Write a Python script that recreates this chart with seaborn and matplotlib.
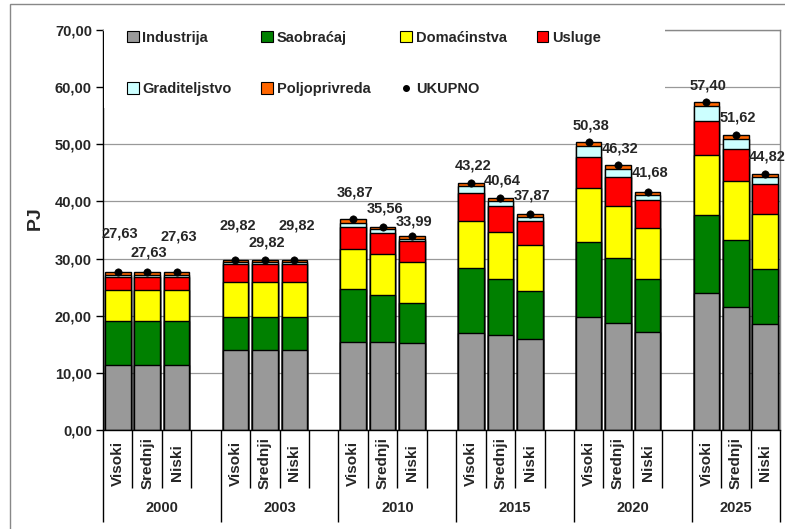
import numpy as np
import pandas as pd
import seaborn as sns
import matplotlib.pyplot as plt
from matplotlib.patches import Patch, Rectangle
from matplotlib.lines import Line2D
from matplotlib.ticker import FuncFormatter, FixedLocator

years = ['2000', '2003', '2010', '2015', '2020', '2025']
scenarios = ['Visoki', 'Srednji', 'Niski']

# PJ po sektorima, redom Visoki/Srednji/Niski za svaku godinu
industrija = [11.3, 11.3, 11.3, 14.0, 14.0, 14.0, 15.35, 15.35, 15.2,
              16.9, 16.6, 15.9, 19.8, 18.8, 17.2, 23.9, 21.6, 18.5]
saobracaj = [7.8, 7.8, 7.8, 5.8, 5.8, 5.8, 9.25, 8.2, 7.1,
             11.4, 9.9, 8.5, 13.05, 11.25, 9.3, 13.8, 11.65, 9.7]
domacinstva = [5.4, 5.4, 5.4, 6.15, 6.15, 6.15, 7.1, 7.2, 7.1,
               8.3, 8.2, 8.0, 9.45, 9.15, 8.85, 10.5, 10.25, 9.6]
usluge = [2.2, 2.2, 2.2, 3.05, 3.05, 3.05, 3.9, 3.7, 3.6,
          4.8, 4.45, 4.2, 5.5, 5.1, 4.85, 5.9, 5.6, 5.25]
graditeljstvo = [0.5, 0.5, 0.5, 0.45, 0.45, 0.45, 0.7, 0.65, 0.5,
                 1.3, 0.85, 0.6, 1.9, 1.4, 0.9, 2.55, 1.8, 1.15]
poljoprivreda = [0.43, 0.43, 0.43, 0.37, 0.37, 0.37, 0.57, 0.46, 0.49,
                 0.52, 0.64, 0.67, 0.68, 0.62, 0.58, 0.75, 0.72, 0.62]
ukupno = [27.63, 27.63, 27.63, 29.82, 29.82, 29.82, 36.87, 35.56, 33.99,
          43.22, 40.64, 37.87, 50.38, 46.32, 41.68, 57.40, 51.62, 44.82]

# pomak oznaka iznad stupca (piksela)
label_dy = [39, 20, 36, 34, 17, 34, 27, 18, 14,
            18, 17, 18, 17, 17, 19, 17, 18, 17]

sectors = ['Industrija', 'Saobraćaj', 'Domaćinstva', 'Usluge', 'Graditeljstvo', 'Poljoprivreda']
colors = ['#999999', '#008000', '#FFFF00', '#FF0000', '#CCFFFF', '#FF6600']
values = [industrija, saobracaj, domacinstva, usluge, graditeljstvo, poljoprivreda]

sns.set_style('white')
plt.rcParams['font.family'] = ['Liberation Sans', 'DejaVu Sans']
plt.rcParams['font.weight'] = 'bold'

# pozicije stupaca: 3 scenarija + prazno mjesto po godini
pos = [g * 4 + s for g in range(len(years)) for s in range(len(scenarios))]
cum = np.cumsum(np.array(values), axis=0)

fig = plt.figure(figsize=(7.85, 5.29), dpi=100)
ax = fig.add_axes([103 / 785, 1 - 430 / 529, 677 / 785, 400 / 529])

for i in range(len(sectors) - 1, -1, -1):
    df = pd.DataFrame({'pos': pos, 'val': cum[i]})
    sns.barplot(data=df, x='pos', y='val', native_scale=True, color=colors[i],
                saturation=1, edgecolor='black', linewidth=1, width=0.87,
                errorbar=None, ax=ax)

sns.scatterplot(x=pos, y=ukupno, color='black', s=28, edgecolor='black',
                zorder=6, legend=False, ax=ax)

for p, v, dy in zip(pos, ukupno, label_dy):
    ax.annotate(f'{v:.2f}'.replace('.', ','), (p, v), xytext=(1.5, dy * 0.72),
                textcoords='offset points', ha='center', va='center',
                fontsize=10.5, fontweight='bold', annotation_clip=False)

ax.set_xlim(-0.5, 22.5)
ax.set_ylim(0, 70)
ax.set_yticks(np.arange(0, 71, 10))
ax.yaxis.set_major_formatter(FuncFormatter(lambda v, _: f'{v:.2f}'.replace('.', ',')))
ax.tick_params(axis='y', direction='out', length=5, width=1, color='black',
               labelsize=10.5, pad=3, left=True)
ax.set_ylabel('')
ax.set_xlabel('')
ax.grid(axis='y', color='#999999', linewidth=0.9)
ax.set_axisbelow(True)

for s in ['top', 'right']:
    ax.spines[s].set_color('#888888')
    ax.spines[s].set_linewidth(1)
for s in ['left', 'bottom']:
    ax.spines[s].set_color('black')
    ax.spines[s].set_linewidth(1)

# granice kategorija ispod osi
year_edges = [-0.5, 3.5, 7.5, 11.5, 15.5, 19.5, 22.5]
inner_edges = [k + 0.5 for k in range(-1, 23) if k + 0.5 not in year_edges]
ax.xaxis.set_major_locator(FixedLocator(year_edges))
ax.xaxis.set_minor_locator(FixedLocator(inner_edges))
ax.tick_params(axis='x', which='major', direction='out', length=66, width=1,
               color='black', labelbottom=False, bottom=True)
ax.tick_params(axis='x', which='minor', direction='out', length=42, width=1,
               color='black', bottom=True)

xtr = ax.get_xaxis_transform()
for k, p in enumerate(pos):
    ax.text(p, -0.0825, scenarios[k % 3], rotation=90, ha='center', va='center',
            fontsize=11, fontweight='bold', transform=xtr)
for g, yr in enumerate(years):
    lo, hi = year_edges[g], year_edges[g + 1]
    ax.text((lo + hi) / 2, -0.195, yr, ha='center', va='center',
            fontsize=10.5, fontweight='bold', transform=xtr)

fig.text(35 / 785, 1 - 218 / 529, 'PJ', rotation=90, ha='center', va='center',
         fontsize=14, fontweight='bold')

# bijela podloga legende
ax.add_patch(Rectangle((104 / 785, 1 - 108 / 529), 561 / 785, 80 / 529,
                       transform=fig.transFigure, facecolor='white',
                       edgecolor='none', zorder=4, clip_on=False))

handles = {name: Patch(facecolor=c, edgecolor='black', linewidth=0.8)
           for name, c in zip(sectors, colors)}
handles['UKUPNO'] = Line2D([], [], marker='o', color='black', linestyle='none',
                           markersize=4)
order = ['Industrija', 'Graditeljstvo', 'Saobraćaj', 'Poljoprivreda',
         'Domaćinstva', 'UKUPNO', 'Usluge']
leg = ax.legend([handles[o] for o in order], order, ncol=4, loc='upper left',
                bbox_to_anchor=(121 / 785, 1 - 25 / 529),
                bbox_transform=fig.transFigure, frameon=False,
                handlelength=0.8, handleheight=0.8, handletextpad=0.25,
                columnspacing=2.05, labelspacing=2.55, borderaxespad=0,
                prop={'size': 10.5, 'weight': 'bold'})
leg.set_zorder(7)

# okvir slike
fig.patches.append(Rectangle((10 / 785, -0.05), 1.1, 1.05 - 4 / 529,
                             transform=fig.transFigure, facecolor='none',
                             edgecolor='#888888', linewidth=1))

fig.savefig('out.png', dpi=100)
